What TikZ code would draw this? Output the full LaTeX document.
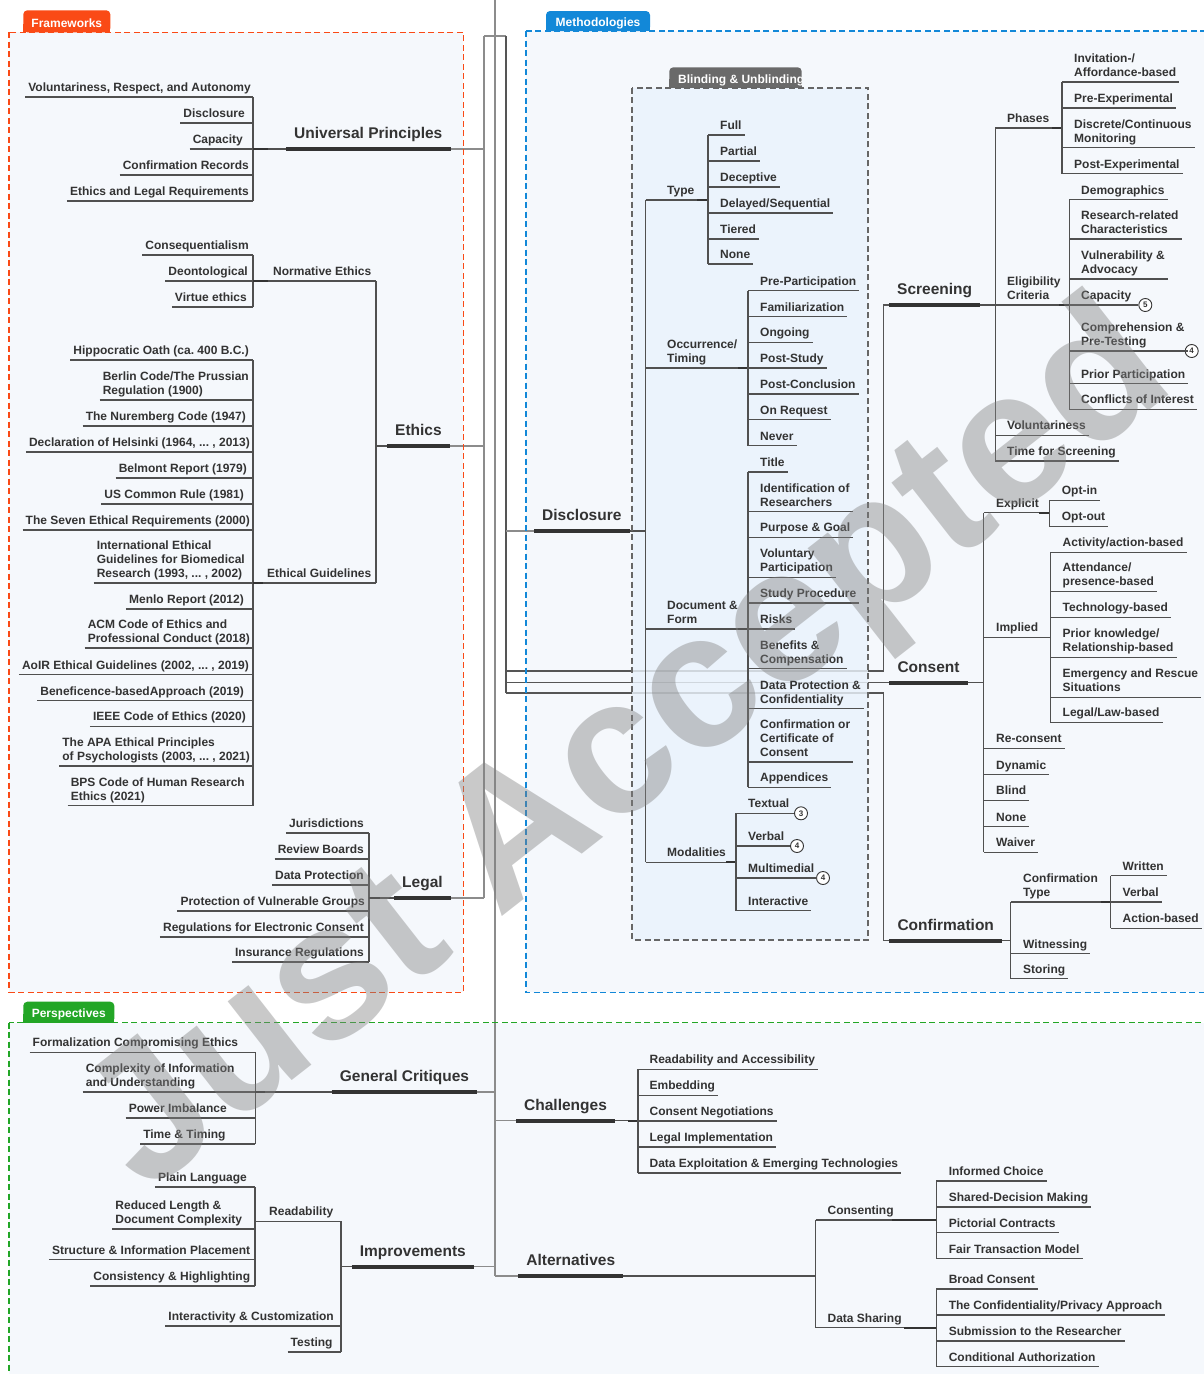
\documentclass[tikz,border=0pt]{standalone}
\usepackage{fontspec}
\setmainfont{Liberation Sans}
\usetikzlibrary{calc}
\frenchspacing
\pgfdeclarelayer{frames}
\pgfdeclarelayer{trunkl}
\pgfdeclarelayer{blind}
\pgfdeclarelayer{fg}
\pgfsetlayers{frames,trunkl,blind,main,fg}
\definecolor{txt}{HTML}{333333}
\definecolor{lnc}{HTML}{505050}
\definecolor{trkc}{HTML}{8C8C8C}
\definecolor{trkd}{HTML}{555555}
\definecolor{fbg}{HTML}{F5F8FC}
\definecolor{bbg}{HTML}{EAF3FC}
\definecolor{cfw}{HTML}{FA4A16}
\definecolor{cme}{HTML}{1288D8}
\definecolor{cpe}{HTML}{23A626}
\definecolor{cbl}{HTML}{6A6A6A}
\definecolor{cbd}{HTML}{666666}
\definecolor{wmc}{gray}{0.5}
\newcommand\leaffont{\fontsize{12}{14}\selectfont\bfseries}
\newcommand\headfont{\fontsize{15.5}{18}\selectfont\bfseries}
\tikzset{
  leaf/.style={font=\leaffont, text=txt, inner xsep=3pt, inner ysep=1.3pt, align=left, execute at end node={\strut}},
  hd/.style={font=\headfont, text=txt, inner xsep=8pt, inner ysep=4.6pt, execute at end node={\strut}},
  ul/.style={draw=lnc, line width=1.1pt},
  stub/.style={draw=txt, line width=2pt},
  trunk/.style={draw=trkc, line width=1.4pt},
  trunkd/.style={draw=trkd, line width=1.3pt},
  hline/.style={draw=txt, line width=4pt},
  numc/.style={circle, draw=txt, fill=white, line width=0.9pt, inner sep=0pt, minimum size=13pt, font=\fontsize{8}{8}\selectfont\bfseries, text=txt},
  tabtxt/.style={font=\leaffont, text=white, inner sep=0pt},
  frame/.style={line width=1.5pt, dash pattern=on 6pt off 3.5pt},
}
\newcommand\LeafL[5]{\node[leaf,anchor=south east,xshift=3pt] (#1) at (#2,#3) {#5};
  \draw[ul] (#1.south west) -- (#1.south west -| #4);}
\newcommand\LeafR[5]{\node[leaf,anchor=south west,xshift=-3pt] (#1) at (#2,#3) {#5};
  \draw[ul] (#4 |- #1.south west) -- (#1.south east);}
\newcommand\MidN[4]{\node[leaf,anchor=south west,xshift=-3pt] (#1) at (#2,#3) {#4};}
\newcommand\Vbar[3]{\draw[ul] (#2.south -| #1) -- (#3.south -| #1);}
\begin{document}
\begin{tikzpicture}[x=1pt,y=-1pt]
\useasboundingbox (0,0) rectangle (1204,1374);
\clip (0,0) rectangle (1204,1374);
\begin{pgfonlayer}{frames}
\fill[white] (0,0) rectangle (1204,1374);
\fill[fbg] (9,32.3) rectangle (463.3,992.3);
\fill[fbg] (526,31) rectangle (1230,992.3);
\fill[fbg] (9,1022.7) rectangle (1230,1400);
\end{pgfonlayer}
\begin{pgfonlayer}{blind}
\fill[bbg, opacity=0.82] (632.3,87.7) rectangle (868.3,940);
\end{pgfonlayer}
% ---------- coordinates
\coordinate (root) at (495,0);
\coordinate (hubL) at (484,36);
\coordinate (hubR) at (506,36);
\coordinate (jS) at (883.5,671);
\coordinate (jC) at (883.5,693);
\coordinate (vUP) at (253,0);
\coordinate (vNE) at (253,0);
\coordinate (vEG) at (253,0);
\coordinate (vEth) at (376,0);
\coordinate (vLeg) at (369,0);
\coordinate (vDis) at (645.7,0);
\coordinate (vType) at (708,0);
\coordinate (vOcc) at (748,0);
\coordinate (vDoc) at (748,0);
\coordinate (vMod) at (736,0);
\coordinate (vScr) at (995.3,0);
\coordinate (vPh) at (1062,0);
\coordinate (vEl) at (1069.3,0);
\coordinate (vCon) at (983.9,0);
\coordinate (vExp) at (1049.2,0);
\coordinate (vImp) at (1050.2,0);
\coordinate (vCnf) at (1010.6,0);
\coordinate (vCT) at (1110.7,0);
\coordinate (vGC) at (255.3,0);
\coordinate (vImpr) at (341,0);
\coordinate (vRead) at (255,0);
\coordinate (vCh) at (638,0);
\coordinate (vAlt) at (815.6,0);
\coordinate (vCs) at (936.3,0);
\coordinate (vDS) at (936.3,0);
% ---------- headings
\node[hd,anchor=south west] (UP) at (286,149) {Universal Principles};
\node[hd,anchor=south west] (Eth) at (387,446) {Ethics};
\node[hd,anchor=south west] (Leg) at (394,898) {Legal};
\node[hd,anchor=south west] (Dis) at (534,531) {Disclosure};
\node[hd,anchor=south west] (Scr) at (889,305) {Screening};
\node[hd,anchor=south west] (Con) at (889.3,682.6) {Consent};
\node[hd,anchor=south west] (Cnf) at (889.3,940.6) {Confirmation};
\node[hd,anchor=south west] (GC) at (331.7,1092) {General Critiques};
\node[hd,anchor=south west] (Imp) at (351.7,1266.7) {Improvements};
\node[hd,anchor=south west] (Ch) at (516,1120.7) {Challenges};
\node[hd,anchor=south west] (Alt) at (518.2,1276) {Alternatives};
% ---------- Universal principles
\LeafL{upA}{251}{97}{vUP}{Voluntariness, Respect, and Autonomy}
\LeafL{upB}{245}{123}{vUP}{Disclosure}
\LeafL{upC}{243}{149}{vUP}{Capacity}
\LeafL{upD}{249}{175}{vUP}{Confirmation Records}
\LeafL{upE}{249}{201}{vUP}{Ethics and Legal Requirements}
\Vbar{vUP}{upA}{upE}
\draw[ul] (vUP |- UP.south west) -- (UP.south west);
\draw[stub] (vUP |- UP.south west) -- ++(15,0);
% ---------- Ethics
\LeafL{neA}{249}{255}{vNE}{Consequentialism}
\LeafL{neB}{248}{281}{vNE}{Deontological}
\LeafL{neC}{247}{307}{vNE}{Virtue ethics}
\Vbar{vNE}{neA}{neC}
\MidN{NE}{273}{281}{Normative Ethics}
\draw[ul] (vNE |- NE.south) -- (vEth |- NE.south);
\draw[stub] (vNE |- NE.south) -- ++(15,0);
\LeafL{egA}{249}{360}{vEG}{Hippocratic Oath (ca. 400 B.C.)}
\LeafL{egB}{249}{400}{vEG}{Berlin Code/The Prussian\\Regulation (1900)}
\LeafL{egC}{246}{426}{vEG}{The Nuremberg Code (1947)}
\LeafL{egD}{250}{452}{vEG}{Declaration of Helsinki (1964, ... , 2013)}
\LeafL{egE}{247}{478}{vEG}{Belmont Report (1979)}
\LeafL{egF}{244}{504}{vEG}{US Common Rule (1981)}
\LeafL{egG}{250}{530}{vEG}{The Seven Ethical Requirements (2000)}
\LeafL{egH}{245}{583}{vEG}{International Ethical\\Guidelines for Biomedical\\Research (1993, ... , 2002)}
\LeafL{egI}{244}{609}{vEG}{Menlo Report (2012)}
\LeafL{egJ}{250}{648}{vEG}{ACM Code of Ethics and\\Professional Conduct (2018)}
\LeafL{egK}{249}{674.7}{vEG}{AoIR Ethical Guidelines (2002, ... , 2019)}
\LeafL{egL}{244}{700.7}{vEG}{Beneficence-basedApproach (2019)}
\LeafL{egM}{246}{726.3}{vEG}{IEEE Code of Ethics (2020)}
\LeafL{egN}{250}{766}{vEG}{The APA Ethical Principles\\of Psychologists (2003, ... , 2021)}
\LeafL{egO}{245}{805.7}{vEG}{BPS Code of Human Research\\Ethics (2021)}
\Vbar{vEG}{egA}{egO}
\MidN{EG}{267}{583}{Ethical Guidelines}
\draw[ul] (vEG |- EG.south) -- (vEth |- EG.south);
\draw[stub] (vEG |- EG.south) -- ++(10,0);
\draw[ul] (vEth |- NE.south) -- (vEth |- EG.south);
\draw[ul] (vEth |- Eth.south west) -- (Eth.south west);
% ---------- Legal
\LeafL{lgA}{364}{833}{vLeg}{Jurisdictions}
\LeafL{lgB}{364}{859}{vLeg}{Review Boards}
\LeafL{lgC}{364}{885}{vLeg}{Data Protection}
\LeafL{lgD}{365}{911}{vLeg}{Protection of Vulnerable Groups}
\LeafL{lgE}{364}{937}{vLeg}{Regulations for Electronic Consent}
\LeafL{lgF}{364}{962}{vLeg}{Insurance Regulations}
\Vbar{vLeg}{lgA}{lgF}
\draw[ul] (vLeg |- Leg.south west) -- (Leg.south west);
\draw[stub] (vLeg |- Leg.south west) -- ++(11,0);
% ---------- Disclosure
\draw[ul] (Dis.south east) -- (Dis.south east -| vDis);
\MidN{Ty}{667}{200}{Type}
\MidN{Oc}{667}{368}{Occurrence/\\Timing}
\MidN{Df}{667}{629}{Document \&\\Form}
\MidN{Mo}{667}{862.3}{Modalities}
\draw[ul] (vDis |- Ty.south) -- (vDis |- Mo.south);
\draw[ul] (vDis |- Ty.south) -- (vType |- Ty.south);
\draw[ul] (vDis |- Oc.south) -- (vOcc |- Oc.south);
\draw[ul] (vDis |- Df.south) -- (vDoc |- Df.south);
\draw[ul] (vDis |- Mo.south) -- (vMod |- Mo.south);
\draw[stub] (vType |- Ty.south) -- ++(-11,0);
\draw[stub] (vOcc |- Oc.south) -- ++(-10,0);
\draw[stub] (vDoc |- Df.south) -- ++(-10,0);
\draw[stub] (vMod |- Mo.south) -- ++(-10,0);
\LeafR{tyA}{720}{135}{vType}{Full}
\LeafR{tyB}{720}{161}{vType}{Partial}
\LeafR{tyC}{720}{187}{vType}{Deceptive}
\LeafR{tyD}{720}{213}{vType}{Delayed/Sequential}
\LeafR{tyE}{720}{239}{vType}{Tiered}
\LeafR{tyF}{720}{264}{vType}{None}
\Vbar{vType}{tyA}{tyF}
\LeafR{ocA}{760}{290.7}{vOcc}{Pre-Participation}
\LeafR{ocB}{760}{316.7}{vOcc}{Familiarization}
\LeafR{ocC}{760}{342.3}{vOcc}{Ongoing}
\LeafR{ocD}{760}{368}{vOcc}{Post-Study}
\LeafR{ocE}{760}{394}{vOcc}{Post-Conclusion}
\LeafR{ocF}{760}{419.7}{vOcc}{On Request}
\LeafR{ocG}{760}{445.7}{vOcc}{Never}
\Vbar{vOcc}{ocA}{ocG}
\LeafR{dfA}{760}{472}{vDoc}{Title}
\LeafR{dfB}{760}{511.7}{vDoc}{Identification of\\Researchers}
\LeafR{dfC}{760}{537.3}{vDoc}{Purpose \& Goal}
\LeafR{dfD}{760}{577.3}{vDoc}{Voluntary\\Participation}
\LeafR{dfE}{760}{603}{vDoc}{Study Procedure}
\LeafR{dfF}{760}{629}{vDoc}{Risks}
\LeafR{dfG}{760}{668.7}{vDoc}{Benefits \&\\Compensation}
\LeafR{dfH}{760}{708.7}{vDoc}{Data Protection \&\\Confidentiality}
\LeafR{dfI}{760}{762}{vDoc}{Confirmation or\\Certificate of\\Consent}
\LeafR{dfJ}{760}{787.3}{vDoc}{Appendices}
\Vbar{vDoc}{dfA}{dfJ}
\LeafR{moA}{748}{813.3}{vMod}{Textual}
\LeafR{moB}{748}{846}{vMod}{Verbal}
\LeafR{moC}{748}{878}{vMod}{Multimedial}
\LeafR{moD}{748}{910.7}{vMod}{Interactive}
\Vbar{vMod}{moA}{moD}
\node[numc] (nA) at (801,813.3) {3};
\node[numc] (nB) at (797,846) {4};
\node[numc] (nC) at (823,878) {4};
\draw[ul] (moA.south east) -- (nA.west);
\draw[ul] (moB.south east) -- (nB.west);
\draw[ul] (moC.south east) -- (nC.west);
% ---------- Screening
\draw[ul] (Scr.south east) -- (Scr.south east -| vScr);
\MidN{Ph}{1007}{128}{Phases}
\MidN{El}{1007}{305}{Eligibility\\Criteria}
\LeafR{scV}{1007}{435.3}{vScr}{Voluntariness}
\LeafR{scT}{1007}{461}{vScr}{Time for Screening}
\draw[ul] (vScr |- Ph.south) -- (vScr |- scT.south);
\draw[ul] (vScr |- Ph.south) -- (vPh |- Ph.south);
\draw[ul] (vScr |- El.south) -- (vEl |- El.south);
\draw[stub] (vPh |- Ph.south) -- ++(-10,0);
\draw[stub] (vEl |- El.south) -- ++(-10,0);
\LeafR{phA}{1074}{82}{vPh}{Invitation-/\\Affordance-based}
\LeafR{phB}{1074}{108}{vPh}{Pre-Experimental}
\LeafR{phC}{1074}{147.7}{vPh}{Discrete/Continuous\\Monitoring}
\LeafR{phD}{1074}{173.7}{vPh}{Post-Experimental}
\Vbar{vPh}{phA}{phD}
\LeafR{elA}{1081}{199.7}{vEl}{Demographics}
\LeafR{elB}{1081}{239}{vEl}{Research-related\\Characteristics}
\LeafR{elC}{1081}{279}{vEl}{Vulnerability \&\\Advocacy}
\LeafR{elD}{1081}{305}{vEl}{Capacity}
\LeafR{elE}{1081}{351}{vEl}{Comprehension \&\\Pre-Testing}
\LeafR{elF}{1081}{383.7}{vEl}{Prior Participation}
\LeafR{elG}{1081}{409.3}{vEl}{Conflicts of Interest}
\Vbar{vEl}{elA}{elG}
\node[numc] (nD) at (1145.3,305) {5};
\node[numc] (nE) at (1191.7,351) {4};
\draw[ul] (elD.south east) -- (nD.west);
\draw[ul] (elE.south east) -- (nE.west);
% ---------- Consent
\draw[ul] (Con.south east) -- (Con.south east -| vCon);
\MidN{Ex}{996}{512.9}{Explicit}
\MidN{Im}{996}{637.3}{Implied}
\LeafR{cnA}{996}{748.6}{vCon}{Re-consent}
\LeafR{cnB}{996}{774.9}{vCon}{Dynamic}
\LeafR{cnC}{996}{800.6}{vCon}{Blind}
\LeafR{cnD}{996}{826.7}{vCon}{None}
\LeafR{cnE}{996}{852.4}{vCon}{Waiver}
\draw[ul] (vCon |- Ex.south) -- (vCon |- cnE.south);
\draw[ul] (vCon |- Ex.south) -- (vExp |- Ex.south);
\draw[ul] (vCon |- Im.south) -- (vImp |- Im.south);
\draw[stub] (vExp |- Ex.south) -- ++(-10,0);
\LeafR{exA}{1061.7}{500.4}{vExp}{Opt-in}
\LeafR{exB}{1061.7}{526.5}{vExp}{Opt-out}
\Vbar{vExp}{exA}{exB}
\LeafR{imA}{1062.5}{552.2}{vImp}{Activity/action-based}
\LeafR{imB}{1062.5}{591.4}{vImp}{Attendance/\\presence-based}
\LeafR{imC}{1062.5}{617.4}{vImp}{Technology-based}
\LeafR{imD}{1062.5}{657.3}{vImp}{Prior knowledge/\\Relationship-based}
\LeafR{imE}{1062.5}{697.2}{vImp}{Emergency and Rescue\\Situations}
\LeafR{imF}{1062.5}{722.5}{vImp}{Legal/Law-based}
\Vbar{vImp}{imA}{imF}
% ---------- Confirmation
\draw[ul] (Cnf.south east) -- (Cnf.south east -| vCnf);
\MidN{CT}{1023}{902}{Confirmation\\Type}
\LeafR{cfA}{1023}{953.8}{vCnf}{Witnessing}
\LeafR{cfB}{1023}{978.8}{vCnf}{Storing}
\draw[ul] (vCnf |- CT.south) -- (vCnf |- cfB.south);
\draw[ul] (vCnf |- CT.south) -- (vCT |- CT.south);
\draw[stub] (vCT |- CT.south) -- ++(-10,0);
\LeafR{ctA}{1122.5}{875.7}{vCT}{Written}
\LeafR{ctB}{1122.5}{902}{vCT}{Verbal}
\LeafR{ctC}{1122.5}{928.1}{vCT}{Action-based}
\Vbar{vCT}{ctA}{ctC}
% ---------- General critiques
\LeafL{gcA}{238.3}{1052.3}{vGC}{Formalization Compromising Ethics}
\LeafL{gcB}{234.7}{1092}{vGC}{Complexity of Information\\and Understanding}
\LeafL{gcC}{227}{1118}{vGC}{Power Imbalance}
\LeafL{gcD}{225.7}{1144}{vGC}{Time \& Timing}
\Vbar{vGC}{gcA}{gcD}
\draw[ul] (vGC |- GC.south west) -- (GC.south west);
\draw[stub] (vGC |- GC.south west) -- ++(10,0);
% ---------- Improvements
\MidN{Rd}{269}{1221.3}{Readability}
\LeafL{ipA}{334}{1326}{vImpr}{Interactivity \& Customization}
\LeafL{ipB}{332.7}{1352}{vImpr}{Testing}
\draw[ul] (vImpr |- Rd.south) -- (vImpr |- ipB.south);
\draw[ul] (vRead |- Rd.south) -- (vImpr |- Rd.south);
\draw[ul] (vImpr |- Imp.south west) -- (Imp.south west);
\LeafL{rdA}{247}{1187}{vRead}{Plain Language}
\LeafL{rdB}{242.3}{1229}{vRead}{Reduced Length \&\\Document Complexity}
\LeafL{rdC}{250.3}{1259.7}{vRead}{Structure \& Information Placement}
\LeafL{rdD}{250.3}{1286}{vRead}{Consistency \& Highlighting}
\Vbar{vRead}{rdA}{rdD}
% ---------- Challenges
\draw[ul] (Ch.south east) -- (Ch.south east -| vCh);
\draw[stub] (vCh |- Ch.south east) -- ++(-10,0);
\LeafR{chA}{649.4}{1069.3}{vCh}{Readability and Accessibility}
\LeafR{chB}{649.4}{1095.3}{vCh}{Embedding}
\LeafR{chC}{649.4}{1121}{vCh}{Consent Negotiations}
\LeafR{chD}{649.4}{1147}{vCh}{Legal Implementation}
\LeafR{chE}{649.4}{1173}{vCh}{Data Exploitation \& Emerging Technologies}
\Vbar{vCh}{chA}{chE}
% ---------- Alternatives
\draw[ul] (Alt.south east) -- (Alt.south east -| vAlt);
\MidN{Cs}{827.4}{1220}{Consenting}
\MidN{Ds}{827.4}{1327.7}{Data Sharing}
\draw[ul] (vAlt |- Cs.south) -- (vAlt |- Ds.south);
\draw[ul] (vAlt |- Cs.south) -- (vCs |- Cs.south);
\draw[ul] (vAlt |- Ds.south) -- (vDS |- Ds.south);
\draw[stub] (vCs |- Cs.south) -- ++(-44,0);
\draw[stub] (vDS |- Ds.south) -- ++(-32,0);
\LeafR{csA}{948.6}{1181}{vCs}{Informed Choice}
\LeafR{csB}{948.6}{1207}{vCs}{Shared-Decision Making}
\LeafR{csC}{948.6}{1232.7}{vCs}{Pictorial Contracts}
\LeafR{csD}{948.6}{1258.7}{vCs}{Fair Transaction Model}
\Vbar{vCs}{csA}{csD}
\LeafR{dsA}{948.6}{1289}{vDS}{Broad Consent}
\LeafR{dsB}{948.6}{1315}{vDS}{The Confidentiality/Privacy Approach}
\LeafR{dsC}{948.6}{1341}{vDS}{Submission to the Researcher}
\LeafR{dsD}{948.6}{1366.7}{vDS}{Conditional Authorization}
\Vbar{vDS}{dsA}{dsD}
% ---------- heading underlines
\foreach \h in {UP,Eth,Leg,Dis,Scr,Con,Cnf,GC,Imp,Ch,Alt}
  \draw[hline] (\h.south west) -- (\h.south east);
% ---------- trunk
\begin{pgfonlayer}{trunkl}
\draw[trunk] (root) -- (root |- Alt.south west);
\draw[trunk] (hubL) -- (hubR);
\draw[trunk] (hubL) -- (hubL |- Leg.south east);
\draw[trunkd] (hubR) -- (hubR |- jC);
\draw[trunk] (UP.south east) -- (UP.south east -| hubL);
\draw[trunk] (Eth.south east) -- (Eth.south east -| hubL);
\draw[trunk] (Leg.south east) -- (Leg.south east -| hubL);
\draw[trunk] (hubR |- Dis.south west) -- (Dis.south west);
\draw[trunkd] (hubR |- jS) -- (jS) -- (jS |- Scr.south west) -- (Scr.south west);
\draw[trunkd] (hubR |- Con.south west) -- (Con.south west);
\draw[trunkd] (hubR |- jC) -- (jC) -- (jC |- Cnf.south west) -- (Cnf.south west);
\draw[trunk] (GC.south east) -- (GC.south east -| root);
\draw[trunk] (root |- Ch.south west) -- (Ch.south west);
\draw[trunk] (Imp.south east) -- (Imp.south east -| root);
\draw[trunk] (root |- Alt.south west) -- (Alt.south west);
\end{pgfonlayer}
% ---------- frames and tabs
\begin{pgfonlayer}{fg}
\fill[cfw, rounded corners=4pt] (23.3,10.3) rectangle (110.3,32.3);
\fill[cfw] (23.3,24) rectangle (110.3,32.3);
\node[tabtxt, anchor=base] (tabF) at (66.8,27) {Frameworks};
\draw[frame, cfw] (9,32.3) rectangle (463.3,992.3);
\fill[cme, rounded corners=4pt] (546,11) rectangle (650,31);
\fill[cme] (546,23) rectangle (650,31);
\node[tabtxt, anchor=base] (tabM) at (598,26.5) {Methodologies};
\draw[frame, cme] (526,31) rectangle (1230,992.3);
\fill[cpe, rounded corners=4pt] (23.3,1001.7) rectangle (114.3,1022.7);
\fill[cpe] (23.3,1014) rectangle (114.3,1022.7);
\node[tabtxt, anchor=base] (tabP) at (68.8,1017) {Perspectives};
\draw[frame, cpe] (9,1022.7) rectangle (1230,1400);
\fill[cbl, rounded corners=4pt] (669.3,67.3) rectangle (801.7,87.7);
\fill[cbl] (669.3,79) rectangle (801.7,87.7);
\begin{scope}
\clip (669.3,60) rectangle (801.7,87.7);
\node[tabtxt, anchor=base west] (tabB) at (678,83) {Blinding \& Unblinding};
\end{scope}
\draw[frame, cbd, line width=1.7pt] (632.3,87.7) rectangle (868.3,940);
\node[rotate=38, text=wmc, opacity=0.42, text opacity=0.42, inner sep=0pt, font=\fontsize{192}{192}\selectfont\bfseries] (wmk) at (632,752) {Just Accepted};
\end{pgfonlayer}
\end{tikzpicture}
\end{document}
